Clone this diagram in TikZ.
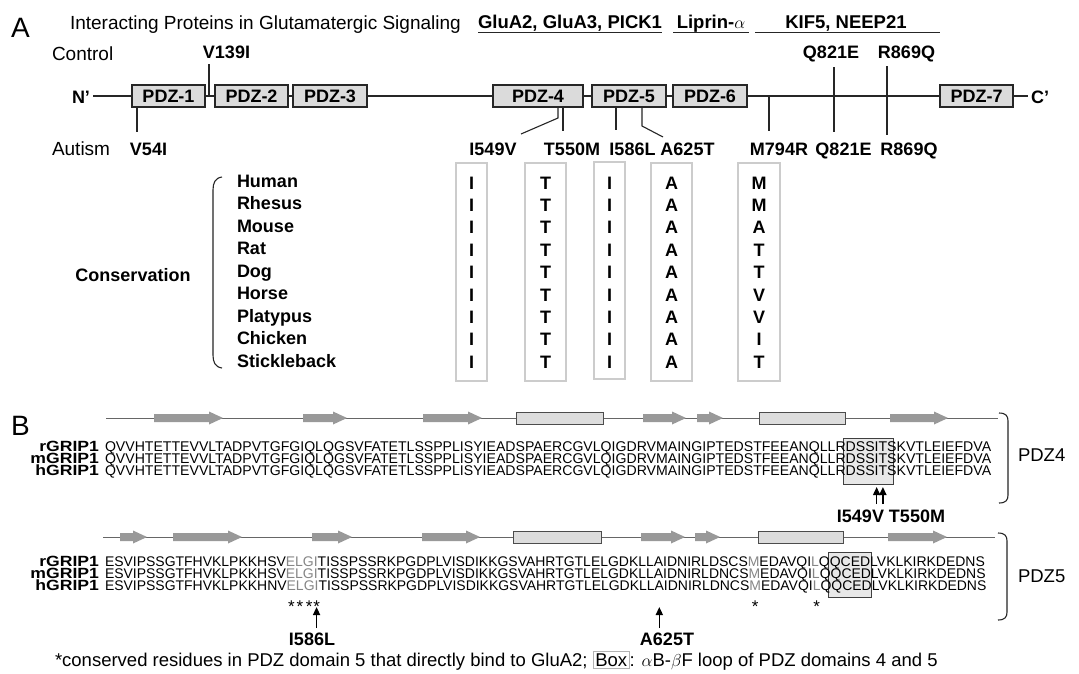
\documentclass[tikz,border=0pt]{standalone}
\usepackage{fontspec}
\setmainfont{Liberation Sans}
\usetikzlibrary{arrows.meta,backgrounds,calc}
\newcommand\fs[1]{\fontsize{#1}{#1}\selectfont}
\newcommand\wide[1]{\scalebox{1.19}[1]{#1}}
\setlength\fboxsep{1.5pt}
\setlength\fboxrule{1pt}
\newcommand\bstrand[3]{\fill[strandgray] (#1,{#3-4}) -- ({#2-14},{#3-4}) -- ({#2-14},{#3-6.5}) -- (#2,#3) -- ({#2-14},{#3+6.5}) -- ({#2-14},{#3+4}) -- (#1,{#3+4}) -- cycle;}
\colorlet{strandgray}{gray!80}
\colorlet{hlgray}{gray!95}
\tikzset{
 txt/.style={inner sep=0pt, outer sep=0pt, anchor=base},
 hdr/.style={txt, font=\fs{19}},
 bl/.style={txt, font=\bfseries\fs{18}},
 bh/.style={txt, font=\bfseries\fs{18.5}},
 pdzbox/.style={draw=black!85, line width=1.1pt, fill=gray!28, minimum height=22pt, inner sep=0pt, font=\bfseries\fs{18}},
 mline/.style={line width=1.1pt, draw=black!85},
 consbox/.style={draw=gray!40, line width=1.2pt},
 seq/.style={inner sep=0pt, outer sep=0pt, anchor=base west, font=\fs{14.1}},
 seqf/.style={seq, font=\fs{13.97}},
 hl/.style={text=hlgray},
 seqlab/.style={inner sep=0pt, outer sep=0pt, anchor=base east, font=\bfseries\fs{14.8}},
 star/.style={inner sep=0pt, outer sep=0pt, anchor=base, font=\fs{17}},
 ssline/.style={line width=1pt, draw=black!60},
 helix/.style={draw=black!70, line width=1pt, fill=gray!27},
 loopbox/.style={draw=black!75, line width=0.9pt, fill=gray!18},
 uparrow/.style={-{Triangle[length=8pt,width=7pt]}, line width=1.6pt},
 brace/.style={line width=1.1pt, draw=black!85},
}
\newcommand\pfourrow[2]{%
 \node[seq] (#1a) at (105,#2) {QVVHTETTEVVLTADPVTGFGIQLQGSVFATETLSSPPLISYIEADSPAERCGVLQIGDRVMAINGIPTEDSTFEEANQLLR};
 \node[seq] (#1b) at (#1a.base east) {DSS};
 \node[seq] (#1I) at (#1b.base east) {I};
 \node[seq] (#1T) at (#1I.base east) {T};
 \node[seq] (#1S) at (#1T.base east) {S};
 \node[seq] (#1c) at (#1S.base east) {KVTLEIEFDVA};
}
\newcommand\pfiverow[4]{%
 \node[seqf] (#1a) at (105,#2) {ESVIPSSGTFHVKLPKKH#3V};
 \node[seqf,hl] (#1E) at (#1a.base east) {E};
 \node[seqf,hl] (#1L) at (#1E.base east) {L};
 \node[seqf,hl] (#1G) at (#1L.base east) {G};
 \node[seqf,hl] (#1I) at (#1G.base east) {I};
 \node[seqf] (#1b) at (#1I.base east) {TISSPSSRKPGDPLVISDIKKGSVAHRTGTLELGDKLL};
 \node[seqf] (#1A) at (#1b.base east) {A};
 \node[seqf] (#1c) at (#1A.base east) {IDNIRLD#4CS};
 \node[seqf,hl] (#1M) at (#1c.base east) {M};
 \node[seqf] (#1d) at (#1M.base east) {EDAVQI};
 \node[seqf,hl] (#1Lb) at (#1d.base east) {L};
 \node[seqf] (#1e) at (#1Lb.base east) {Q};
 \node[seqf] (#1Q) at (#1e.base east) {QCED};
 \node[seqf] (#1f) at (#1Q.base east) {LVKLKIRKDEDNS};
}
\begin{document}
\begin{tikzpicture}[x=1pt,y=-1pt]
\begin{scope}[on background layer]
\fill[white] (0,0) rectangle (1079,673);
\end{scope}
\useasboundingbox (0,0) rectangle (1079,673);

%%%%% Panel A
\node[txt,anchor=base west,font=\fs{28}] (pA) at (11,37) {A};
\node[hdr,anchor=base west] (intr) at (70,29) {Interacting Proteins in Glutamatergic Signaling};
\node[bh] (h1) at (570,28) {GluA2, GluA3, PICK1};
\node[bh] (h2) at (711,28) {Liprin-$\alpha$};
\node[bh] (h3) at (846,28) {KIF5, NEEP21};
\coordinate (u1a) at (478,32.5); \coordinate (u1b) at (662,32.5);
\coordinate (u2a) at (673,32.5); \coordinate (u2b) at (749,32.5);
\coordinate (u3a) at (755,32.5); \coordinate (u3b) at (940,32.5);
\draw[mline] (u1a) -- (u1b);
\draw[mline] (u2a) -- (u2b);
\draw[mline] (u3a) -- (u3b);

\node[hdr,anchor=base west] (ctl) at (52,60) {Control};
\node[hdr,anchor=base west] (aut) at (52,155) {Autism};

\coordinate (lnS) at (93,96); \coordinate (lnE) at (1028,96);
\draw[mline] (lnS) -- (lnE);
\node[bl,anchor=base east] (Nt) at (90,103) {N’};
\node[bl,anchor=base west] (Ct) at (1031,103) {C’};

\node[pdzbox,minimum width=73pt] (p1) at (168.5,96) {PDZ-1};
\node[pdzbox,minimum width=73pt] (p2) at (251.5,96) {PDZ-2};
\node[pdzbox,minimum width=74pt] (p3) at (330,96) {PDZ-3};
\node[pdzbox,minimum width=90pt] (p4) at (538,96) {PDZ-4};
\node[pdzbox,minimum width=74pt] (p5) at (629,96) {PDZ-5};
\node[pdzbox,minimum width=74pt] (p6) at (710,96) {PDZ-6};
\node[pdzbox,minimum width=73pt] (p7) at (976.5,96) {PDZ-7};

% control mutations
\node[bl] (v139) at (226.5,58) {V139I};
\node[bl] (q821t) at (831,58) {Q821E};
\node[bl] (r869t) at (906.5,58) {R869Q};
\coordinate (cV) at (209,64);
\coordinate (cQ) at (834,67);
\coordinate (cR) at (887,66);
\draw[mline] (cV) -- (cV |- lnS);
% autism mutations
\node[bl] (v54) at (148.5,155) {V54I};
\node[bl] (i549) at (493,155) {I549V};
\node[bl] (t550) at (572,155) {T550M};
\node[bl] (i586) at (632.5,155) {I586L};
\node[bl] (a625) at (687.5,155) {A625T};
\node[bl] (m794) at (779,155) {M794R};
\node[bl] (q821b) at (843.5,155) {Q821E};
\node[bl] (r869b) at (909,155) {R869Q};
\coordinate (eV54) at (137,132);
\coordinate (eI549) at (521,134);
\coordinate (eT550) at (563,131);
\coordinate (eI586) at (616,130);
\coordinate (eA625) at (663,137);
\coordinate (eM794) at (769,131);
\coordinate (eQ) at (834,132);
\coordinate (eR) at (887,135);
\draw[mline] (eV54 |- p1.south) -- (eV54);
\draw[mline] (p4.south -| 558,0) -- (558,118) -- (eI549);
\draw[mline] (eT550 |- p4.south) -- (eT550);
\draw[mline] (eI586 |- p5.south) -- (eI586);
\draw[mline] (p5.south -| 642,0) -- (642,126) -- (eA625);
\draw[mline] (eM794 |- lnS) -- (eM794);
\draw[mline] (cQ) -- (eQ);
\draw[mline] (cR) -- (eR);

% conservation
\node[bl] (cons) at (133,281) {Conservation};
\coordinate (brT) at (222,177); \coordinate (brB) at (222,368);
\draw[brace] (brT) .. controls (215,178) and (213,183) .. (213,190) -- (213,355) .. controls (213,362) and (215,367) .. (brB);
\foreach \sp [count=\i from 0] in {Human,Rhesus,Mouse,Rat,Dog,Horse,Platypus,Chicken,Stickleback}
  \node[bl,anchor=base west] (sp\i) at (237,{187+22.5*\i}) {\sp};
\draw[consbox] (456,163) rectangle (487,381);
\draw[consbox] (525,163) rectangle (566,381);
\draw[consbox] (594,162) rectangle (625,379);
\draw[consbox] (651,163) rectangle (692,381);
\draw[consbox] (738,163) rectangle (780,381);
\foreach \i in {0,...,8} {
  \node[bl] (ca\i) at (471.5,{189+22.4*\i}) {I};
  \node[bl] (cb\i) at (545.5,{189+22.4*\i}) {T};
  \node[bl] (cc\i) at (609.5,{189+22.4*\i}) {I};
  \node[bl] (cd\i) at (671.5,{189+22.4*\i}) {A};
}
\foreach \m [count=\i from 0] in {M,M,A,T,T,V,V,I,T}
  \node[bl] (ce\i) at (759,{189+22.4*\i}) {\m};

%%%%% Panel B
\node[txt,anchor=base west,font=\fs{28}] (pB) at (11,435) {B};
% PDZ4 secondary structure
\coordinate (s4a) at (106,418); \coordinate (s4b) at (998,418);
\draw[ssline] (s4a) -- (s4b);
\bstrand{154}{223}{418}
\bstrand{303}{347}{418}
\bstrand{423}{482}{418}
\bstrand{643}{686}{418}
\bstrand{697}{723}{418}
\bstrand{890}{948}{418}
\draw[helix] (516,412) rectangle (603,424);
\draw[helix] (759,412) rectangle (845,424);

\node[seqlab] (l4r) at (99,451) {\wide{rGRIP1}};
\node[seqlab] (l4m) at (99,463) {\wide{mGRIP1}};
\node[seqlab] (l4h) at (99,475) {\wide{hGRIP1}};
\pfourrow{r4}{451}
\pfourrow{m4}{463}
\pfourrow{h4}{475}
\begin{scope}[on background layer]
\draw[loopbox] ($(r4b.west |- 0,438)+(-2,0)$) rectangle ($(h4S.center |- 0,484)+(2,0)$);
\end{scope}
\coordinate (b4T) at (999,413); \coordinate (b4B) at (999,503);
\draw[brace] (b4T) .. controls (1006,413) and (1008,416) .. (1008,421) -- (1008,495) .. controls (1008,500) and (1006,503) .. (b4B);
\node[txt,anchor=base west,font=\fs{18.5}] (pdz4) at (1018,461) {PDZ4};
\node[bl] (l549) at (891,522) {I549V T550M};
\draw[uparrow] (h4I.base |- 0,504) -- (h4I.base |- 0,487);
\draw[uparrow] (h4T.base |- 0,504) -- (h4T.base |- 0,487);

% PDZ5 secondary structure
\coordinate (s5a) at (103,537); \coordinate (s5b) at (995,537);
\draw[ssline] (s5a) -- (s5b);
\bstrand{120}{147}{537}
\bstrand{173}{242}{537}
\bstrand{312}{352}{537}
\bstrand{422}{480}{537}
\bstrand{641}{685}{537}
\bstrand{695}{720}{537}
\bstrand{888}{947}{537}
\draw[helix] (513,531) rectangle (601,543);
\draw[helix] (758,531) rectangle (843,543);

\node[seqlab] (l5r) at (99,566) {\wide{rGRIP1}};
\node[seqlab] (l5m) at (99,578) {\wide{mGRIP1}};
\node[seqlab] (l5h) at (99,590) {\wide{hGRIP1}};
\pfiverow{r5}{566}{S}{S}
\pfiverow{m5}{578}{S}{N}
\pfiverow{h5}{590}{N}{N}
\begin{scope}[on background layer]
\draw[loopbox] ($(r5Q.west |- 0,552)+(-1,0)$) rectangle ($(r5Q.east |- 0,597)+(1,0)$);
\end{scope}
\foreach \n in {E,L,G,I,M,Lb}
  \node[star] (st\n) at (h5\n.base |- 0,612) {*};
\coordinate (b5T) at (998,533); \coordinate (b5B) at (998,620);
\draw[brace] (b5T) .. controls (1005,533) and (1007,536) .. (1007,541) -- (1007,612) .. controls (1007,617) and (1005,620) .. (b5B);
\node[txt,anchor=base west,font=\fs{18.5}] (pdz5) at (1018,582) {PDZ5};
\node[bl] (l586) at (312,645) {I586L};
\node[bl] (l625) at (667,645) {A625T};
\draw[uparrow] (h5I.base |- 0,628) -- (h5I.base |- 0,607);
\draw[uparrow] (h5A.base |- 0,628) -- (h5A.base |- 0,607);

\node[txt,anchor=base west,font=\fs{18.5}] (cap) at (55,666) {*conserved residues in PDZ domain 5 that directly bind to GluA2; \fcolorbox{gray!60}{white}{Box}: $\alpha$B-$\beta$F loop of PDZ domains 4 and 5};
\end{tikzpicture}
\end{document}
